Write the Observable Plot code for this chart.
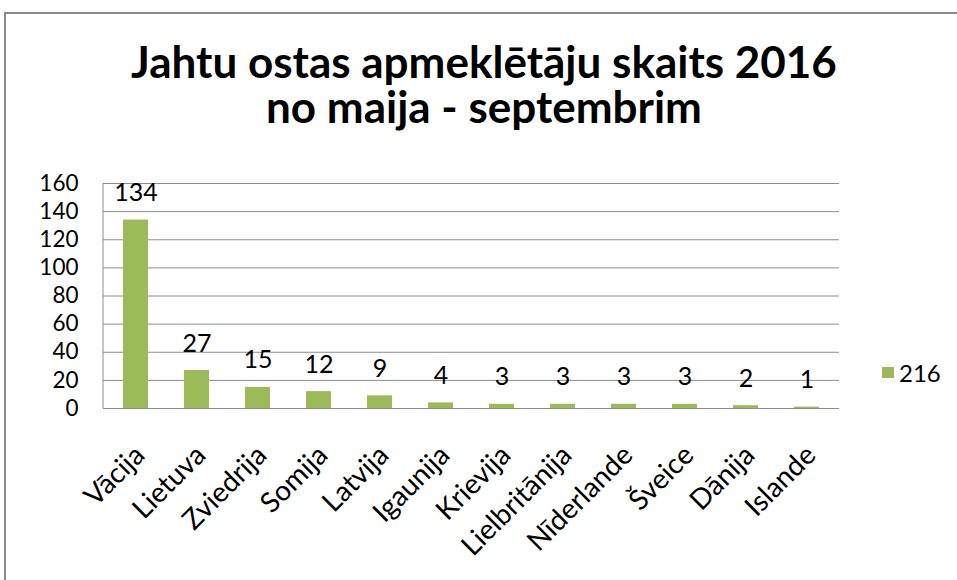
<!DOCTYPE html>
<html><head><meta charset="utf-8">
<script src="https://cdn.jsdelivr.net/npm/d3@7"></script>
<script src="https://cdn.jsdelivr.net/npm/@observablehq/plot@0.6"></script>
<style>
html,body{margin:0;padding:0;background:#fff;overflow:hidden;width:957px;height:580px;}
#wrap{position:relative;width:957px;height:580px;overflow:hidden;font-family:Lato,sans-serif;color:#000;}
#border{position:absolute;left:4px;top:12px;width:1000px;height:700px;border:2px solid #8a8a8a;box-sizing:border-box;}
.tl{position:absolute;left:0;width:968px;text-align:center;font-weight:700;font-size:44px;line-height:44px;height:44px;white-space:nowrap;}
#t1{top:39px;}
#t2{top:84px;}
#chart{position:absolute;left:0;top:150px;}
#legend{position:absolute;left:882px;top:358px;height:28px;display:flex;align-items:center;font-size:24px;}
#legend .sw{width:12px;height:11px;background:#9BBB59;margin-right:5px;}
</style>
</head><body>
<div id="wrap">
  <div id="border"></div>
  <div class="tl" id="t1">Jahtu ostas apmeklētāju skaits 2016</div>
  <div class="tl" id="t2">no maija - septembrim</div>
  <div id="chart"></div>
  <div id="legend"><span class="sw"></span><span id="legtext"></span></div>
</div>
<script>
const categories = ["Vācija","Lietuva","Zviedrija","Somija","Latvija","Igaunija","Krievija","Lielbritānija","Nīderlande","Šveice","Dānija","Islande"];
const visitors = [134,27,15,12,9,4,3,3,3,3,2,1];
const yTicks = [0,20,40,60,80,100,120,140,160];
const seriesName = "216";

const data = categories.map((c,i)=>({country:c, value:visitors[i]}));
const green = "#9BBB59", grid = "#8c8c8c";
const W=957, H=430, mL=103, mR=118, mT=33, mB=172;

const chart = Plot.plot({
  width:W, height:H, marginLeft:mL, marginRight:mR, marginTop:mT, marginBottom:mB,
  style:{fontFamily:"Lato, sans-serif", background:"transparent", color:"#000", overflow:"visible"},
  x:{domain:categories, paddingInner:0.59, paddingOuter:0.295, axis:null},
  y:{domain:[0,160], axis:null},
  marks:[
    Plot.ruleY(yTicks, {stroke:grid, strokeWidth:1}),
    Plot.barY(data, {x:"country", y:"value", fill:green}),
    Plot.ruleY([0], {stroke:grid, strokeWidth:1}),
    Plot.text(yTicks, {y:d=>d, text:d=>String(d), frameAnchor:"left", textAnchor:"end", dx:-25, fontSize:22.5, fill:"#000"}),
    Plot.text(data, {x:"country", y:"value", text:d=>String(d.value), dy:-27, fontSize:25, fill:"#000"}),
    Plot.text(data, {x:"country", text:"country", frameAnchor:"bottom", textAnchor:"end", lineAnchor:"middle", rotate:-45, dx:4, dy:42, fontSize:28, fill:"#000"})
  ]
});
d3.select(chart).append("line")
  .attr("x1",mL).attr("x2",mL).attr("y1",mT).attr("y2",H-mB)
  .attr("stroke",grid).attr("stroke-width",1);
document.getElementById("chart").appendChild(chart);
document.getElementById("legtext").textContent = seriesName;
</script>
</body></html>
